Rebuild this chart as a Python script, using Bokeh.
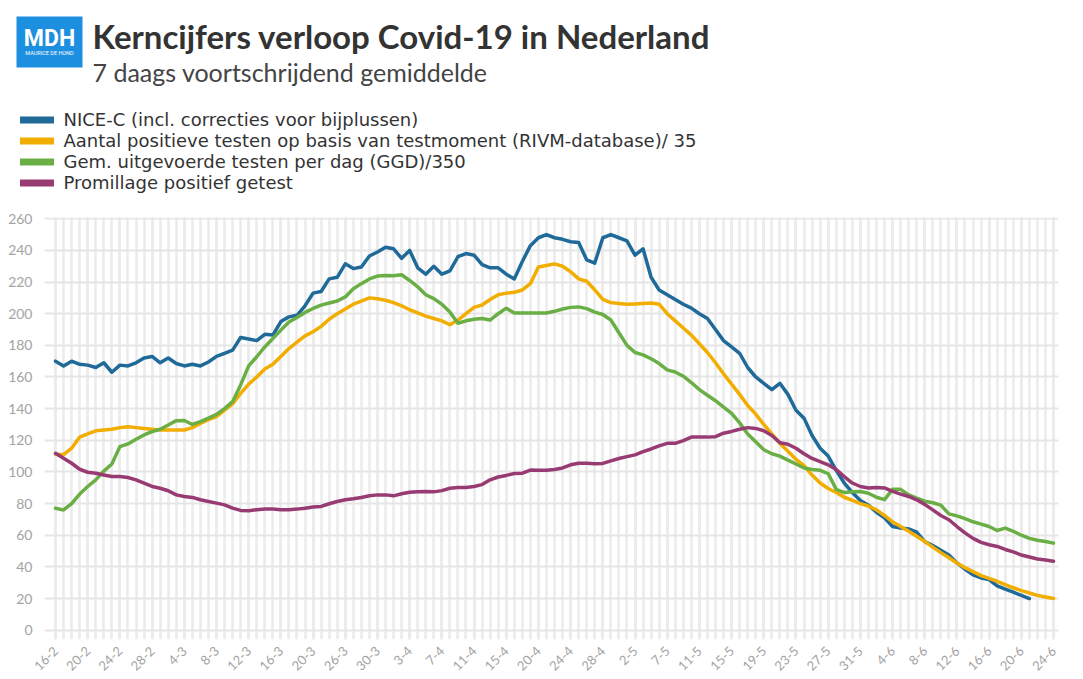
import math
import pandas as pd
from bokeh.plotting import figure
from bokeh.models import Range1d, FixedTicker, Legend, LegendItem
from bokeh.core.properties import value
from bokeh.embed import file_html
from bokeh.resources import INLINE

# ---------------- data ----------------
all_days = pd.date_range("2021-02-16", "2021-06-24", freq="D")
missing_days = ["2021-03-22", "2021-03-24", "2021-04-18", "2021-05-05"]
dates = [f"{d.day}-{d.month}" for d in all_days if d.strftime("%Y-%m-%d") not in missing_days]

nice_c = [170, 167, 170, 168, 167.5, 166, 169, 163, 167.5, 167, 169, 172, 173, 169, 172, 168.5,
          167, 168, 167, 169.5, 173, 175, 177, 185, 184, 183, 187, 186.5, 195, 198, 199, 205,
          213, 214, 222, 223, 231.5, 228.5, 229.5, 236.5, 239, 242, 241, 235, 240, 229, 225, 230,
          225, 227, 236, 238, 237, 231, 229, 229, 225, 222, 233, 243, 248, 250, 248, 247, 245.5,
          245, 234, 232, 248, 250, 248, 246, 237, 241, 223, 215, 212, 209, 206, 203.5, 200, 197,
          190, 183, 179, 175, 166, 160, 156, 152, 156, 149, 139, 134, 123, 115, 110, 101, 93, 87,
          82, 79, 74.5, 71, 65.5, 64.5, 64, 62, 56, 53.5, 50.5, 47.5, 42.5, 38.5, 35, 33, 32, 28,
          26, 24, 22, 20]

positief = [111, 111, 115, 122, 124, 126, 126.5, 127, 128, 128.6, 128, 127.5, 127, 126.5, 126.5,
            126.5, 126.5, 128, 130.7, 133, 135, 139, 143, 149.6, 155.5, 160, 165, 168, 173, 178,
            182, 186, 188.6, 192, 196.5, 200, 203, 206, 208, 210, 209.5, 208.5, 207, 205, 202.5,
            200.5, 198.5, 197, 195.5, 193, 196, 200, 204, 205.5, 209, 212, 213, 213.5, 215, 219,
            229.5, 230.5, 231.5, 230, 226.5, 222, 220.5, 215, 209, 207, 206.5, 206, 206.2, 206.5,
            206.8, 206, 200, 195.5, 191, 186.5, 181, 175.5, 169, 162, 155.5, 149, 142, 136.5, 130,
            124, 118, 113, 108, 104, 98, 93, 89.5, 87, 84, 82, 80, 78.5, 76, 72.5, 68.5, 65.5,
            62.5, 59.3, 56, 52.5, 49, 45.8, 42.5, 39.5, 37, 34.5, 32.7, 30.9, 28.8, 26.8, 25,
            23.5, 22, 21, 20]

testen = [77, 76, 80, 86, 90.8, 95, 100.5, 105, 116, 117.7, 120.6, 123.4, 125.5, 127, 129.7,
          132.4, 132.5, 130, 131.8, 134, 136.4, 140, 144.4, 155, 167, 172.8, 179, 184.3, 189.6,
          194.8, 197.6, 200.8, 203.3, 205.4, 206.8, 208, 210.6, 215.8, 219, 222, 223.8, 224.2,
          224, 224.6, 221, 217, 212, 209.5, 206, 201, 194, 195.5, 196.5, 197, 196, 200, 203.5,
          200.5, 200.5, 200.5, 200.5, 200.5, 201.5, 203, 204, 204.3, 203.2, 201, 199.5, 196, 188,
          180, 175.5, 174, 171.5, 168.5, 164.5, 163.2, 160.5, 156.5, 152, 148.5, 145, 141, 137,
          131, 124, 119, 114, 111.5, 110, 107.5, 105, 102.5, 101.5, 101, 99, 89, 87, 87.5, 87.6,
          86.5, 84, 82.5, 89, 89, 85.5, 83.4, 81.5, 80.5, 79, 73.5, 72.2, 70.5, 68.5, 67, 65.5,
          63, 64.5, 62.5, 60, 58, 56.8, 56, 55]

promille = [111.8, 108.7, 105.5, 101.7, 99.8, 99.2, 98.1, 97.1, 97.1, 96.5, 95, 92.9, 90.8, 89.7,
            88.1, 85.5, 84.5, 83.9, 82.4, 81.3, 80.3, 79.2, 77.1, 75.7, 75.5, 76.1, 76.5, 76.5,
            76.1, 76.1, 76.5, 77.1, 77.8, 78.2, 79.9, 81.3, 82.4, 83, 83.9, 84.9, 85.5, 85.5,
            84.9, 86.2, 87.2, 87.5, 87.6, 87.4, 88.2, 89.7, 90.2, 90.2, 90.8, 92, 95, 96.8, 97.8,
            99, 99.2, 101.2, 101, 101.1, 101.5, 102.5, 104.5, 105.5, 105.5, 105.2, 105.4, 107,
            108.5, 109.7, 110.8, 112.8, 114.5, 116.5, 118.1, 118.1, 119.8, 122, 122, 122, 122.3,
            124.5, 125.6, 127, 128, 127.5, 126, 123, 118.5, 117.5, 115, 111.5, 108.5, 106.5,
            104.5, 101.5, 97, 93, 90.8, 89.8, 90.2, 89.9, 87.7, 86, 84.5, 82.4, 79.5, 76, 72.5,
            69.8, 65.5, 61.5, 58, 55.5, 54, 52.9, 51, 49.5, 47.5, 46.2, 45, 44.3, 43.5]

series_names = ["NICE-C (incl. correcties voor bijplussen)",
                "Aantal positieve testen op basis van testmoment (RIVM-database)/ 35",
                "Gem. uitgevoerde testen per dag (GGD)/350",
                "Promillage positief getest"]
series_values = [nice_c, positief, testen, promille]
series_colors = ["#1f6a98", "#f2ae00", "#6aaf45", "#983b72"]
y_ticks = list(range(0, 261, 20))

TITLE = "Kerncijfers verloop Covid-19 in Nederland"
SUBTITLE = "7 daags voortschrijdend gemiddelde"
FONT = "Lato"
LEGEND_FONT = "DejaVu Sans"

W = 1078
HEAD_H = 208
MAIN_H = 469

# ---------------- header (own root) ----------------
h = figure(width=W, height=HEAD_H, output_backend="svg", toolbar_location=None, title=None,
           x_range=Range1d(0, W), y_range=Range1d(HEAD_H, 0), min_border=0,
           x_axis_location=None, y_axis_location=None)
h.grid.visible = False
h.outline_line_color = None

h.quad(left=[16], right=[82], top=[16], bottom=[67], fill_color="#1d8fe0", line_color=None)
h.text(x=[49], y=[38], text=["MDH"], text_font=value("Roboto"), text_font_size="23px",
       text_font_style="bold", text_color="white", text_align="center", text_baseline="middle")
h.text(x=[49], y=[52], text=["MAURICE DE HOND"], text_font=value("Roboto"), text_font_size="5.5px",
       text_color="white", text_align="center", text_baseline="middle")
h.text(x=[92], y=[35], text=[TITLE], text_font=value(FONT), text_font_size="33px",
       text_font_style="bold", text_color="#333333", text_align="left", text_baseline="alphabetic")
h.text(x=[92], y=[71], text=[SUBTITLE], text_font=value(FONT), text_font_size="25px",
       text_color="#444444", text_align="left", text_baseline="alphabetic")

legend_centers = [119.5, 140.5, 161.5, 182.5]
ITEM_H = 21
for name, col, yc in zip(series_names, series_colors, legend_centers):
    r = h.line(x=[float("nan")], y=[float("nan")], line_color=col, line_width=7, line_cap="round")
    leg = Legend(items=[LegendItem(label=name, renderers=[r])],
                 location=(19.5, HEAD_H - yc - ITEM_H / 2),
                 glyph_width=34, glyph_height=ITEM_H, label_height=ITEM_H, label_standoff=10,
                 spacing=0, padding=0, margin=0, border_line_color=None, background_fill_alpha=0,
                 label_text_font=LEGEND_FONT, label_text_font_size="18px",
                 label_text_color="#333333")
    h.add_layout(leg)

# ---------------- main chart ----------------
x = list(range(len(dates)))
p = figure(width=W, height=MAIN_H, output_backend="svg", toolbar_location=None, title=None,
           x_range=Range1d(-1.37, 124.62), y_range=Range1d(-5.9, 260.8),
           min_border_left=44, min_border_right=20, min_border_top=9, min_border_bottom=37)
p.outline_line_color = None

label_idx = list(range(0, len(dates), 4))
p.xaxis.ticker = FixedTicker(ticks=label_idx, minor_ticks=x)
p.xaxis.major_label_overrides = {i: dates[i] for i in label_idx}
p.xaxis.major_label_orientation = math.pi / 4
p.yaxis.ticker = FixedTicker(ticks=y_ticks)

for ax in (p.xaxis, p.yaxis):
    ax.axis_line_color = None
    ax.major_tick_line_color = None
    ax.minor_tick_line_color = None
    ax.major_label_text_color = "#a3a3a3"
    ax.major_label_text_font = FONT
p.xaxis.major_label_text_font_size = "13px"
p.xaxis.major_label_standoff = 3
p.yaxis.major_label_text_font_size = "14px"
p.yaxis.major_label_standoff = 6

p.xgrid.grid_line_color = "#ebebeb"
p.xgrid.grid_line_width = 2.5
p.xgrid.minor_grid_line_color = "#ebebeb"
p.xgrid.minor_grid_line_width = 2.5
p.ygrid.grid_line_color = "#e6e6e6"
p.ygrid.grid_line_width = 2

for vals, col in zip(series_values, series_colors):
    p.line(x=x[:len(vals)], y=vals, line_color=col, line_width=3.5,
           line_join="round", line_cap="round")

open("out.html", "w").write(file_html([h, p], INLINE))
